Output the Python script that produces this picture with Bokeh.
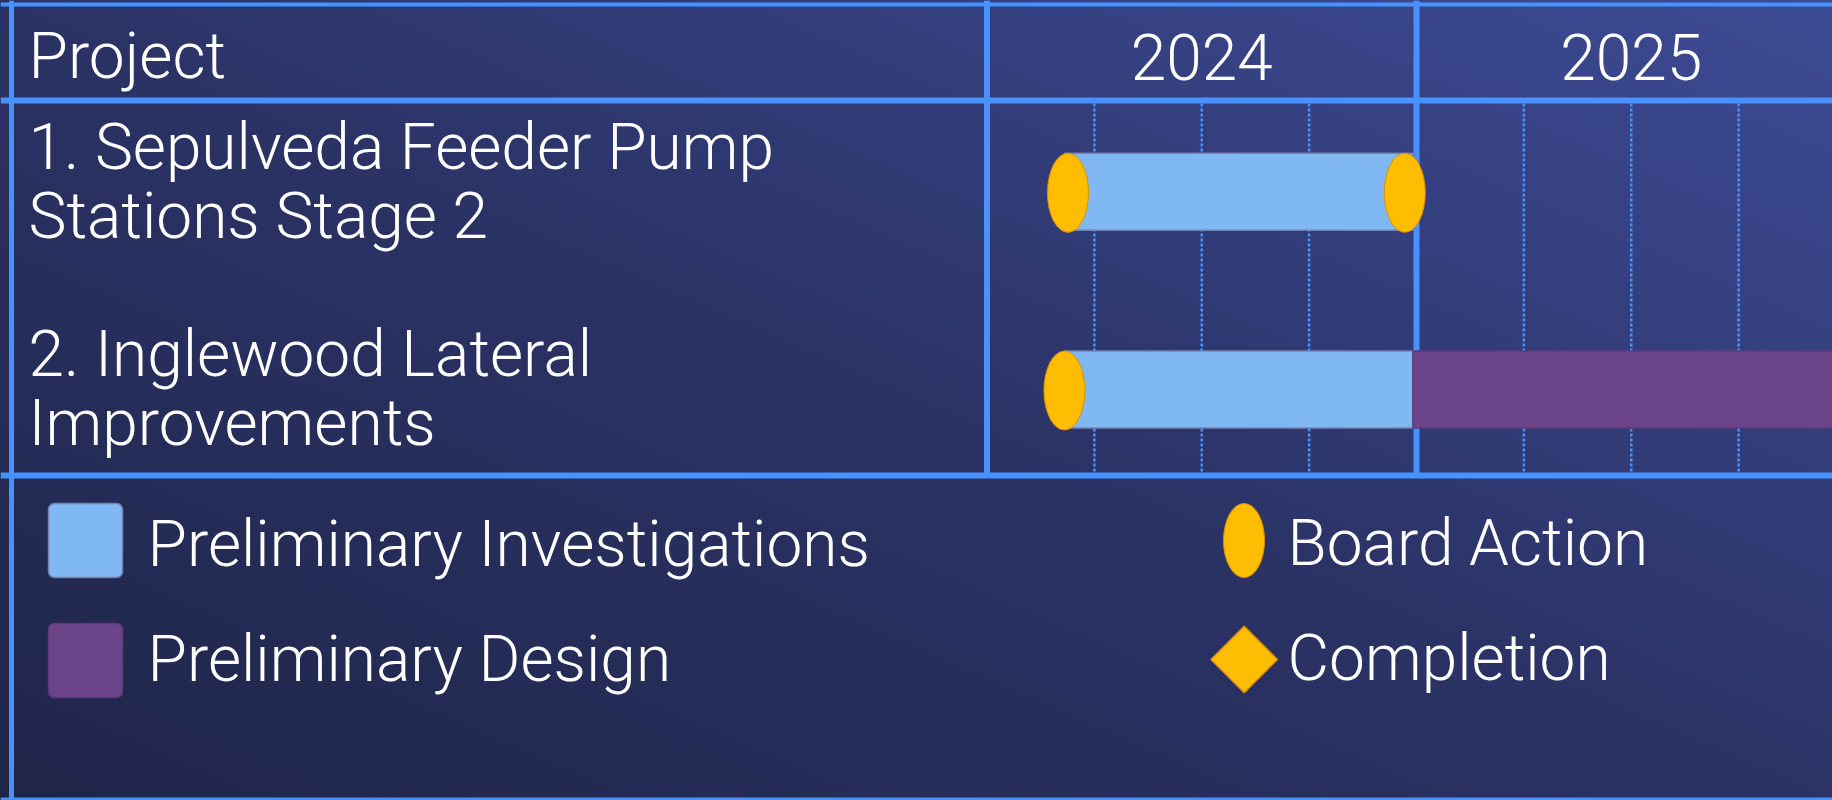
from datetime import date
from math import pi

from bokeh.plotting import figure
from bokeh.models import Range1d
from bokeh.core.properties import value
from bokeh.embed import file_html
from bokeh.resources import INLINE

# ---------------- data ----------------
header_label = "Project"
years = [2024, 2025]
row_label_lines = [
    ["1. Sepulveda Feeder Pump", "Stations Stage 2"],
    ["2. Inglewood Lateral", "Improvements"],
]
phase_names = ["Preliminary Investigations", "Preliminary Design"]
phase_colors = ["#80b8f3", "#6c4489"]
phase_outline = ["#7482ad", "#5e3a7b"]

bar_row = [0, 1, 1]
bar_phase = [0, 0, 1]
bar_start = ["2024-03-07", "2024-03-07", "2024-12-29"]
bar_end = ["2024-12-29", "2024-12-29", "2026-06-30"]

milestone_names = ["Board Action", "Completion"]
milestone_color = "#ffbd00"
milestone_edge = "#e08f00"
board_row = [0, 0, 1]
board_date = ["2024-03-10", "2024-12-22", "2024-03-07"]

# ---------------- helpers / layout ----------------
def year_frac(s):
    d = date.fromisoformat(s)
    start = date(d.year, 1, 1)
    n = (date(d.year + 1, 1, 1) - start).days
    return d.year + (d - start).days / n

W, H = 1832, 800
X_FIRST_YEAR = 986.5      # pixel where the first year column starts
PX_PER_YEAR = 429.5
t0 = years[0] - X_FIRST_YEAR / PX_PER_YEAR
t1 = t0 + W / PX_PER_YEAR

LINE = "#4792ff"
FONT = value("'Roboto Light', Roboto")
FS = "64px"
WHITE = "#ffffff"
BL = -22                  # baseline correction for rendered text

HEAD_Y = 100
ROWS_BOTTOM = 475
ROW_Y = [191.3, 389.0]
BAR_H = 77
LABEL_X = 28
ROW_BASELINE = [169, 376]
LINE_H = 68.5

p = figure(width=W, height=H, x_range=Range1d(0, W), y_range=Range1d(H, 0),
           output_backend="svg", toolbar_location=None,
           x_axis_type=None, y_axis_type=None, min_border=0)
p.extra_x_ranges = {"time": Range1d(t0, t1)}
p.background_fill_color = None
p.border_fill_color = None
p.outline_line_color = None
p.xgrid.visible = False
p.ygrid.visible = False

# ---------------- grid of the table ----------------
qx = [y + q / 4 for y in years for q in (1, 2, 3)]
p.segment(x0=qx, x1=qx, y0=[HEAD_Y + 3] * len(qx), y1=[ROWS_BOTTOM - 3] * len(qx),
          x_range_name="time", line_color=LINE, line_width=2.5, line_dash="3 2")
hy = [4, HEAD_Y, ROWS_BOTTOM, H - 1.5]
hw = [4, 6, 6, 3]
p.segment(x0=[0] * 4, x1=[W] * 4, y0=hy, y1=hy, line_color=LINE, line_width=hw)
p.segment(x0=[11], x1=[11], y0=[0], y1=[H], line_color=LINE, line_width=5)
vx = years + [years[-1] + 1]
p.segment(x0=vx, x1=vx, y0=[0] * len(vx), y1=[ROWS_BOTTOM] * len(vx),
          x_range_name="time", line_color=LINE, line_width=6)

# ---------------- bars ----------------
p.hbar(y=[ROW_Y[r] for r in bar_row], height=BAR_H,
       left=[year_frac(s) for s in bar_start], right=[year_frac(e) for e in bar_end],
       fill_color=[phase_colors[k] for k in bar_phase],
       line_color=[phase_outline[k] for k in bar_phase], line_width=1.5,
       x_range_name="time")

p.ellipse(x=[year_frac(d) for d in board_date], y=[ROW_Y[r] + 1 for r in board_row],
          width=41, height=79, width_units="screen", height_units="screen",
          fill_color=milestone_color, line_color=milestone_edge, line_width=1,
          x_range_name="time")

# ---------------- texts ----------------
HEAD_BASE = 78
p.text(x=[LABEL_X], y=[HEAD_BASE + BL], text=[header_label], text_font=FONT,
       text_font_size=FS, text_color=WHITE, text_baseline="alphabetic")
p.text(x=[y + 0.5 for y in years], y=[HEAD_BASE + BL] * len(years),
       text=[str(y) for y in years], x_range_name="time", text_font=FONT,
       text_font_size=FS, text_color=WHITE, text_align="center",
       text_baseline="alphabetic")

lx, ly, lt = [], [], []
for i, lines in enumerate(row_label_lines):
    for j, t in enumerate(lines):
        lx.append(LABEL_X)
        ly.append(ROW_BASELINE[i] + j * LINE_H + BL)
        lt.append(t)
p.text(x=lx, y=ly, text=lt, text_font=FONT, text_font_size=FS, text_color=WHITE,
       text_baseline="alphabetic")

# ---------------- legend ----------------
SW_TOP = [503, 623]
p.quad(left=[48, 48], right=[122, 122], top=SW_TOP, bottom=[t + 74 for t in SW_TOP],
       fill_color=phase_colors, line_color=phase_outline, line_width=1.5, border_radius=6)
p.text(x=[147, 147], y=[566 + BL, 681 + BL], text=phase_names, text_font=FONT,
       text_font_size=FS, text_color=WHITE, text_baseline="alphabetic")

p.ellipse(x=[1243.5], y=[540], width=41, height=74, width_units="screen",
          height_units="screen", fill_color=milestone_color, line_color=milestone_edge,
          line_width=1)
p.scatter(x=[1243.7], y=[659], marker="square", angle=pi / 4, size=47,
          fill_color=milestone_color, line_color=milestone_edge, line_width=1.5)
p.text(x=[1287, 1287], y=[565 + BL, 680 + BL], text=milestone_names, text_font=FONT,
       text_font_size=FS, text_color=WHITE, text_baseline="alphabetic")

html = file_html(p, INLINE, title="Project schedule")
css = ("<style>html{height:100%;overflow:hidden;"
       "background:linear-gradient(to top right,#1f2548 0%,#2b3366 50%,#3d4b95 100%);}"
       "body{margin:0;overflow:hidden;}</style>")
html = html.replace("</head>", css + "</head>", 1)
open("out.html", "w").write(html)
